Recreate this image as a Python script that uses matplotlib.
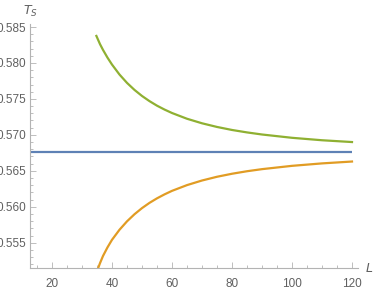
import matplotlib
matplotlib.use("Agg")
import matplotlib.pyplot as plt
from matplotlib.ticker import MultipleLocator, FormatStrFormatter

# Data
L_upper = [34.8, 36, 37, 38.5, 40, 42.5, 45, 47.5, 50, 52.5, 55, 57.5, 60,
           65, 70, 75, 80, 85, 90, 100, 110, 120]
T_upper = [0.58376, 0.58262, 0.58182, 0.58074, 0.57978, 0.57839, 0.57723,
           0.57625, 0.57541, 0.57469, 0.57406, 0.57352, 0.57304, 0.57224,
           0.57161, 0.57110, 0.57068, 0.57034, 0.57005, 0.56959, 0.56925,
           0.56900]
L_lower = [35.4, 36, 37, 38.5, 40, 42.5, 45, 47.5, 50, 52.5, 55, 57.5, 60,
           65, 70, 75, 80, 85, 90, 100, 110, 120]
T_lower = [0.55148, 0.55215, 0.55315, 0.55435, 0.55540, 0.55680, 0.55797,
           0.55896, 0.55981, 0.56054, 0.56117, 0.56172, 0.56221, 0.56301,
           0.56365, 0.56417, 0.56459, 0.56494, 0.56523, 0.56569, 0.56603,
           0.56629]
L_const = [12.7, 120]
T_const = [0.56765, 0.56765]

W, H = 374, 291
fig = plt.figure(figsize=(W / 100, H / 100), dpi=100)
left, right, bottom, top = 30, 357.7, 268, 24
ax = fig.add_axes([left / W, 1 - bottom / H, (right - left) / W, (bottom - top) / H])

ax.plot(L_const, T_const, color="#5E81B5", lw=1.6, solid_capstyle="butt")
ax.plot(L_lower, T_lower, color="#E19C24", lw=1.6)
ax.plot(L_upper, T_upper, color="#8FB032", lw=1.6)

ax.set_xlim(12.67, 121.9)
ax.set_ylim(0.55148, 0.58542)

for s in ["top", "right"]:
    ax.spines[s].set_visible(False)
for s in ["left", "bottom"]:
    ax.spines[s].set_color("#b3b3b3")
    ax.spines[s].set_linewidth(0.8)

ax.xaxis.set_major_locator(MultipleLocator(20))
ax.xaxis.set_minor_locator(MultipleLocator(5))
ax.yaxis.set_major_locator(MultipleLocator(0.005))
ax.yaxis.set_minor_locator(MultipleLocator(0.001))
ax.yaxis.set_major_formatter(FormatStrFormatter("%.3f"))

ax.tick_params(which="both", direction="in", color="#b3b3b3", width=0.6,
               labelcolor="#606060", labelsize=8.5)
ax.tick_params(which="major", length=4, pad=3)
ax.tick_params(axis="x", which="major", pad=7)
ax.tick_params(which="minor", length=2)
for lab in ax.get_xticklabels() + ax.get_yticklabels():
    lab.set_family("Liberation Sans")

fig.text(30 / W, 1 - 11 / H, r"$T_S$", color="#606060", fontsize=9,
         ha="center", va="center")
fig.text(369 / W, 1 - 268 / H, r"$L$", color="#606060", fontsize=9,
         ha="center", va="center")

fig.savefig("out.png", dpi=100)
